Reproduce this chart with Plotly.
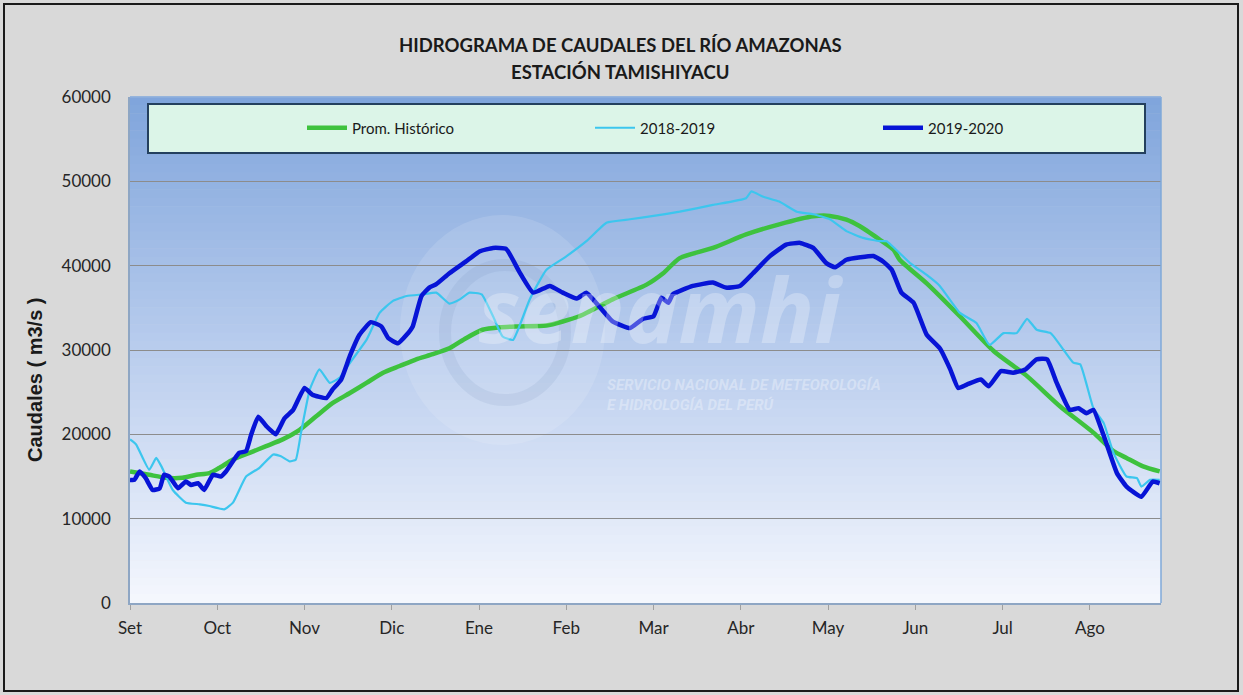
import plotly.graph_objects as go

# ---------------- data (x in months since 1 Sep) ----------------
month_labels = ["Set", "Oct", "Nov", "Dic", "Ene", "Feb", "Mar", "Abr", "May", "Jun", "Jul", "Ago"]
month_ticks = list(range(12))

hist_x = [0.0, 0.22, 0.41, 0.60, 0.76, 0.91, 1.02, 1.18, 1.37, 1.56, 1.75, 1.94, 2.13, 2.32, 2.52,
          2.71, 2.90, 3.09, 3.28, 3.47, 3.66, 3.85, 4.04, 4.24, 4.46, 4.77, 5.15, 5.53, 5.92, 6.11,
          6.30, 6.68, 7.06, 7.44, 7.83, 8.02, 8.21, 8.36, 8.59, 8.75, 8.82, 9.13, 9.51, 9.90, 10.28,
          10.66, 11.04, 11.27, 11.42, 11.61, 11.80]
hist_y = [15600, 15200, 14850, 14850, 15200, 15400, 16000, 17000, 17800, 18600, 19400, 20500, 22100,
          23700, 24900, 26100, 27300, 28100, 28900, 29500, 30200, 31400, 32400, 32700, 32800, 32900,
          34000, 36000, 37750, 39100, 40900, 42100, 43700, 44900, 45850, 45900, 45450, 44700, 43100,
          41900, 40700, 37900, 34000, 29850, 26900, 23300, 20200, 18000, 17200, 16200, 15600]

y1819_x = [0.0, 0.07, 0.22, 0.30, 0.36, 0.49, 0.64, 0.80, 0.91, 1.08, 1.18, 1.33, 1.48, 1.64, 1.73,
           1.83, 1.90, 1.96, 2.06, 2.17, 2.29, 2.40, 2.55, 2.71, 2.86, 3.01, 3.17, 3.36, 3.51, 3.66,
           3.78, 3.89, 4.03, 4.16, 4.27, 4.39, 4.58, 4.77, 5.00, 5.23, 5.46, 5.73, 6.00, 6.30, 6.68,
           7.06, 7.12, 7.25, 7.44, 7.64, 7.83, 8.02, 8.21, 8.40, 8.59, 8.67, 8.94, 9.13, 9.28, 9.51,
           9.70, 9.85, 10.01, 10.16, 10.28, 10.39, 10.55, 10.70, 10.81, 10.89, 11.04, 11.16, 11.27,
           11.42, 11.54, 11.59, 11.69, 11.80]
y1819_y = [19400, 18800, 15800, 17200, 16200, 13400, 11900, 11700, 11500, 11100, 11900, 15000, 16000,
           17600, 17400, 16800, 17000, 20200, 25300, 27700, 26100, 26700, 28900, 31200, 34400, 35800,
           36400, 36600, 36800, 35500, 36000, 36800, 36600, 34000, 31600, 31200, 36000, 39500, 41100,
           42900, 45100, 45500, 45900, 46400, 47200, 48000, 48800, 48200, 47600, 46400, 46100, 45500,
           44100, 43300, 42900, 42900, 40300, 38900, 37600, 34400, 33200, 30600, 32000, 32000, 33700,
           32400, 32000, 30000, 28500, 28300, 23100, 21300, 17800, 15000, 14800, 13800, 14600, 14600]

y1920_x = [0.0, 0.05, 0.11, 0.18, 0.26, 0.34, 0.39, 0.45, 0.55, 0.64, 0.70, 0.78, 0.85, 0.95, 1.04,
           1.10, 1.25, 1.33, 1.39, 1.47, 1.56, 1.67, 1.77, 1.87, 2.00, 2.09, 2.25, 2.32, 2.42, 2.52,
           2.63, 2.76, 2.88, 2.96, 3.07, 3.17, 3.24, 3.34, 3.43, 3.51, 3.66, 3.85, 4.01, 4.16, 4.31,
           4.46, 4.62, 4.81, 4.96, 5.12, 5.23, 5.34, 5.53, 5.73, 5.88, 6.00, 6.09, 6.17, 6.22, 6.45,
           6.68, 6.83, 6.99, 7.14, 7.33, 7.52, 7.68, 7.83, 7.98, 8.08, 8.21, 8.37, 8.52, 8.63, 8.73,
           8.84, 8.98, 9.13, 9.28, 9.40, 9.49, 9.59, 9.75, 9.84, 9.98, 10.12, 10.26, 10.39, 10.51,
           10.62, 10.77, 10.87, 10.96, 11.04, 11.16, 11.31, 11.42, 11.59, 11.72, 11.80]
y1920_y = [14600, 14600, 15600, 14800, 13400, 13600, 15200, 15000, 13600, 14400, 14000, 14200, 13400,
           15200, 15000, 15600, 17800, 18000, 20000, 22100, 21000, 20000, 21900, 22900, 25500, 24700,
           24300, 25300, 26500, 29300, 31800, 33300, 32800, 31400, 30800, 31800, 32800, 36400, 37400,
           37800, 39100, 40500, 41700, 42100, 42000, 39300, 36800, 37600, 36800, 36100, 36800, 35600,
           33400, 32600, 33700, 34000, 36200, 35600, 36600, 37600, 38000, 37400, 37600, 39100, 41100,
           42500, 42700, 42100, 40300, 39800, 40700, 41000, 41150, 40500, 39500, 36800, 35600, 31800,
           30200, 27700, 25500, 25900, 26500, 25700, 27500, 27300, 27700, 28900, 28900, 26100, 22900,
           23100, 22500, 22900, 19800, 15400, 13800, 12600, 14400, 14200]

series_names = ["Prom. Histórico", "2018-2019", "2019-2020"]
y_ticks = [0, 10000, 20000, 30000, 40000, 50000, 60000]

# ---------------- figure ----------------
W, H = 1243, 695
ML, MR, MT, MB = 130, 82, 97, 92
PW, PH = W - ML - MR, H - MT - MB


def px(x):
    return (x - ML) / PW


def py(y):
    return (H - MB - y) / PH


fig = go.Figure()
fig.add_trace(go.Scatter(x=hist_x, y=hist_y, name=series_names[0], mode="lines",
                         line=dict(color="#3ec23e", width=4.5, shape="spline", smoothing=0.6)))
fig.add_trace(go.Scatter(x=y1819_x, y=y1819_y, name=series_names[1], mode="lines",
                         line=dict(color="#3cc6ee", width=2.2, shape="spline", smoothing=0.4)))
fig.add_trace(go.Scatter(x=y1920_x, y=y1920_y, name=series_names[2], mode="lines",
                         line=dict(color="#0714d6", width=4.5, shape="spline", smoothing=0.4)))

shapes = []
# outer frame
shapes.append(dict(type="rect", xref="paper", yref="paper", x0=px(4), x1=px(1238), y0=py(691), y1=py(4),
                   line=dict(color="#1a1a1a", width=2), fillcolor="rgba(0,0,0,0)", layer="below"))
# gradient background of the plot area
N = 60
top = (128, 165, 220)
mid = (185, 205, 238)
bot = (246, 248, 254)
for i in range(N):
    t = (i + 0.5) / N  # 0 top -> 1 bottom
    if t < 0.5:
        u = t / 0.5
        c = [top[k] + (mid[k] - top[k]) * u for k in range(3)]
    else:
        u = (t - 0.5) / 0.5
        c = [mid[k] + (bot[k] - mid[k]) * u for k in range(3)]
    shapes.append(dict(type="rect", xref="x domain", yref="y domain", x0=0, x1=1,
                       y0=1 - (i + 1) / N, y1=1 - i / N + 0.001,
                       fillcolor="rgb(%d,%d,%d)" % tuple(int(v) for v in c),
                       line=dict(width=0), layer="below"))
# faint watermark sun
shapes.append(dict(type="circle", xref="paper", yref="paper", x0=px(400), x1=px(605), y0=py(445), y1=py(215),
                   fillcolor="rgba(255,255,255,0.12)", line=dict(width=0), layer="below"))
shapes.append(dict(type="circle", xref="paper", yref="paper", x0=px(445), x1=px(565), y0=py(400), y1=py(265),
                   fillcolor="rgba(0,0,0,0)", line=dict(color="rgba(90,120,170,0.10)", width=12), layer="below"))
# legend box
shapes.append(dict(type="rect", xref="paper", yref="paper", x0=px(148), x1=px(1145), y0=py(153), y1=py(104),
                   fillcolor="#dcf5e8", line=dict(color="#24405e", width=2), layer="above"))
# right and top border of plot area
shapes.append(dict(type="line", xref="x domain", yref="y domain", x0=1, x1=1, y0=0, y1=1,
                   line=dict(color="#7fa8d8", width=1.5), layer="above"))
shapes.append(dict(type="line", xref="x domain", yref="y domain", x0=0, x1=1, y0=1, y1=1,
                   line=dict(color="#8fb0dc", width=1.5), layer="above"))

annotations = [
    dict(text="<b>HIDROGRAMA DE CAUDALES DEL RÍO AMAZONAS</b>", x=px(620), y=py(45), xref="paper", yref="paper",
         xanchor="center", yanchor="middle",
         showarrow=False, font=dict(family="Lato", size=18.5, color="#1a1a1a")),
    dict(text="<b>ESTACIÓN TAMISHIYACU</b>", x=px(620), y=py(72), xref="paper", yref="paper",
         xanchor="center", yanchor="middle",
         showarrow=False, font=dict(family="Lato", size=18.5, color="#1a1a1a")),
    dict(text="<b>Caudales ( m3/s )</b>", x=px(35), y=py(380), xref="paper", yref="paper", textangle=-90,
         xanchor="center", yanchor="middle",
         showarrow=False, font=dict(family="Liberation Sans", size=20, color="#1a1a1a")),
    # watermark
    dict(text="<b><i>senamhi</i></b>", x=px(660), y=py(308), xref="paper", yref="paper", showarrow=False,
         xanchor="center", yanchor="middle",
         font=dict(family="Open Sans", size=90, color="rgba(255,255,255,0.28)")),
    dict(text="<b><i>SERVICIO NACIONAL DE METEOROLOGÍA<br>E HIDROLOGÍA DEL PERÚ</i></b>", x=px(605), y=py(395),
         xref="paper", yref="paper", xanchor="left", yanchor="middle", align="left", showarrow=False,
         font=dict(family="Liberation Sans Narrow, Roboto", size=15, color="rgba(255,255,255,0.32)")),
]

fig.update_layout(
    width=W, height=H,
    margin=dict(l=ML, r=MR, t=MT, b=MB),
    paper_bgcolor="#d9d9d9",
    plot_bgcolor="rgba(0,0,0,0)",
    shapes=shapes,
    annotations=annotations,
    showlegend=True,
    legend=dict(orientation="h", x=px(302), y=py(128), xanchor="left", yanchor="middle",
                bgcolor="rgba(0,0,0,0)", borderwidth=0, entrywidth=233, entrywidthmode="pixels",
                font=dict(family="Lato", size=15, color="#1a1a1a"), itemwidth=40),
    xaxis=dict(range=[0, 11.815], tickmode="array", tickvals=month_ticks, ticktext=month_labels,
               showgrid=False, zeroline=False, showline=True, linecolor="#8ea6c4", linewidth=1.5,
               ticks="outside", ticklen=5, tickcolor="#a0a0a0", ticklabelstandoff=4,
               tickfont=dict(family="Lato", size=17, color="#262626")),
    yaxis=dict(range=[0, 60000], tickmode="array", tickvals=y_ticks, showgrid=True, gridcolor="#8c8c8c",
               gridwidth=1.2, zeroline=False, showline=True, linecolor="#8ea6c4", linewidth=1.5,
               ticks="", ticklabelstandoff=14, tickformat="d",
               tickfont=dict(family="Lato", size=17, color="#262626")),
)

fig.write_html("out.html", config={"displayModeBar": False},
               post_script="document.body.style.margin='0px';document.body.style.overflow='hidden';")
